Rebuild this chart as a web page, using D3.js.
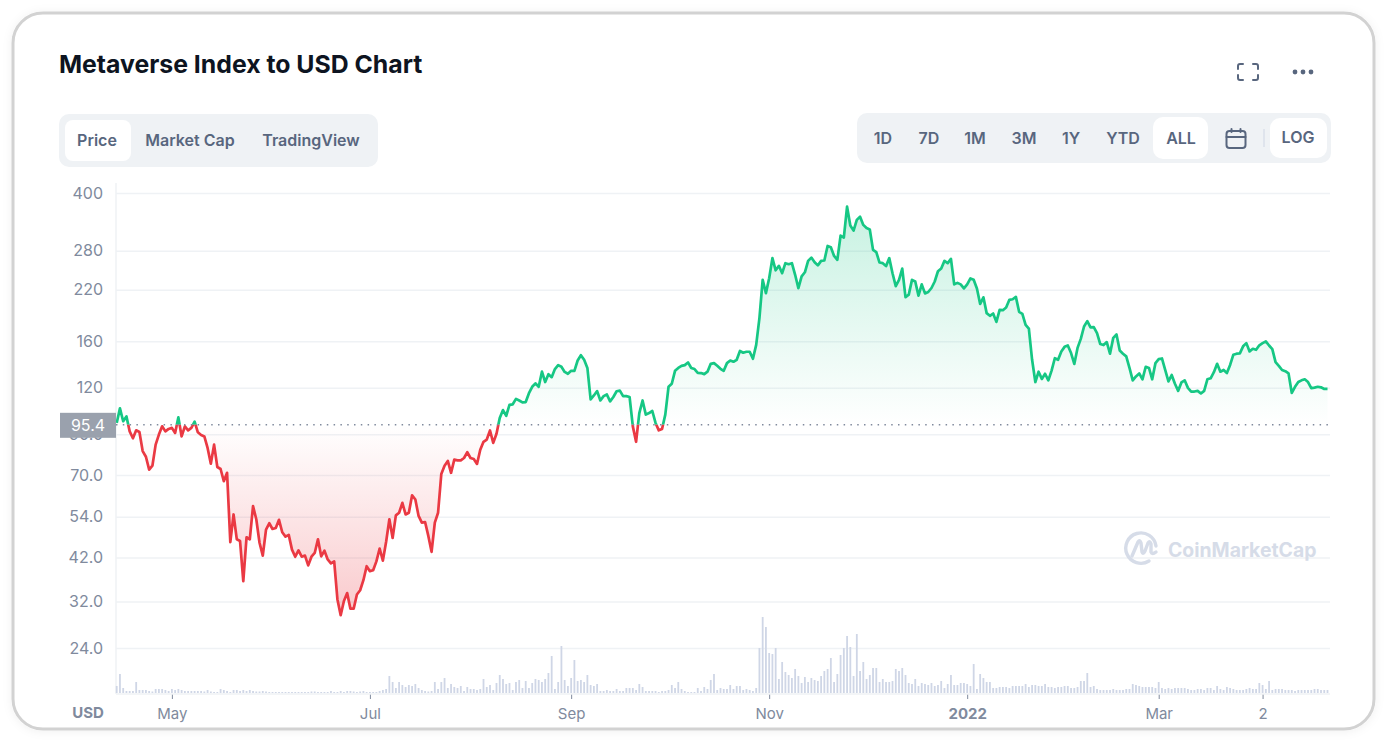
<!DOCTYPE html>
<html>
<head>
<meta charset="utf-8">
<title>Metaverse Index to USD Chart</title>
<script src="https://cdnjs.cloudflare.com/ajax/libs/d3/7.8.5/d3.min.js"></script>
<style>
  html, body { margin: 0; background: #fff; }
  svg { display: block; font-family: Inter, sans-serif; }
</style>
</head>
<body>
<div id="chart"></div>
<script>
// daily close in USD, from 14 Apr 2021
const prices = [
  96.5,105.6,97.5,100.5,91.6,87.8,92.2,91.3,81.1,78.3,72.3,74.1,84.4,89.8,94.5,91.6,93,93.6,90.7,99.9,
  88.8,94.5,92.2,93.6,97.3,91.1,89.6,88.8,82.7,75,84.4,73.5,72.6,67.3,70.9,46.2,54.8,47,46.5,36.3,
  47.6,47,57.7,53.2,46,42.5,49.9,51.9,50.1,50.4,53,49.1,47.8,48.3,44.1,42.2,43.9,42.2,42.5,40,
  42.2,43.2,47,42.3,43.8,41.5,40.5,41,32.4,29.4,32.1,33.7,30.6,30.6,33.4,34.3,36.5,39.8,38.6,38.8,
  41,44.4,41.2,46.3,53.2,47.4,54.5,55.4,58.9,54.8,55.4,61.7,60.1,54.3,52.1,52.3,48,43.5,52.1,55.4,
  70.4,74.1,76.3,70.9,76.9,76.6,76.6,77.7,80.5,77.7,77.2,74.9,81.8,85.9,87.1,92.1,85.3,90.3,99.5,104.5,
  100.9,107.9,108.3,112,110.9,109.6,109.8,116,120.7,123.3,120.7,132.5,124.3,130.5,128.1,134.7,138,136.6,132.3,130.8,
  133.2,133.2,142,146.7,142.6,135.6,111.6,114.4,117.5,110.9,113.9,115.1,110.3,113.3,117.4,117.9,113.9,113.9,113.3,94.5,
  85.9,102.6,110.9,101.6,102.6,103.9,96.5,92.2,93,101.6,120.7,123,133.2,135.6,137.3,138,140.3,135.6,134.7,131.6,
  131.4,130.5,132.5,139.1,139.7,137.4,134.9,133.2,139.7,142,140.9,142.6,150.6,149,149.9,149.9,143.5,156.4,184.6,233.8,
  215.4,236.2,267.3,248,255,243.6,259.2,257.6,259.2,241.2,222,238.9,245,262.9,268.3,260.8,255.7,262.9,263.5,288.3,
  286,271,264.6,307.3,303.6,367.5,327,317,338.7,345.6,328.4,322,319.2,281.4,277.4,260.2,259.2,254.5,267.4,243.6,
  224.9,233.8,250.6,210,213.4,233.8,231.4,212,227.3,215,216.9,222.3,231.4,246.6,250.8,262.9,259.2,266.2,227.3,229.5,
  227.3,221.7,227.3,235.9,233.9,221.7,201.4,209.9,190.3,187.2,189.9,180.3,194.2,193.8,197,206.6,207.4,210.4,191.9,189.5,
  177.1,173,142.6,124.3,132.5,126.7,130.8,125.6,133.4,144,142.6,150.2,154.5,155.8,148.7,139,153.5,162.3,175.2,181.1,
  174.2,174.6,168.2,157.2,156.2,159.1,148.1,163.3,166.7,151,148.1,145.7,135.6,125.6,128.7,131.1,126.4,136.6,135.6,126.4,
  139.7,143.2,143.8,133.9,124.8,129.8,123,117.7,124,125.6,119.9,117.2,117.2,117.7,115.8,117.7,126.4,127.2,132.1,139.1,
  132.5,133.9,131.4,138.2,147.2,148.1,148.4,155,158.1,150.2,152.7,151.7,156,158.1,159.8,155.8,152.4,140.6,137.4,133.9,
  132.9,131.1,116.2,120.7,124.3,125.6,126.4,124.3,119.7,120.1,120.7,120.3,119.1,119.1
];
// daily volume, relative units
const volumes = [
  7,19,5,2,2,2,11,3,3,3,2,1.5,4,4,4,3,2,4,3,4,3,2,2,2,2,2,2,1.5,3,1.5,1,1,4,3,2,1,3,3,2,3,
  2,3,2,1.5,1.5,2,1.5,1,1,1,1,1,1,1,1,1,1,1,1,1,1.5,1.5,1,1,1,1,2,1,1,2,1,2,2,1.5,1,1.5,2,1,
  1,1,1,2,3,4,17,11,5,11,8,6,8,7,9,5,3,2,1.5,2,11,4,11,15,5,9,6,5,7,2,6,4,4,3,4,14,6,8,3,10,
  18,14,9,10,3,11,13,5,12,5,10,14,13,11,14,20,37,4,11,47,13,7,15,33,12,13,11,18,8,7,9,2,2,3,2,2,
  4,2,2,5,5,5,3,9,6,2,2,2,2,1,2,2,3,8,5,11,4,2,1,1,1,5,2,6,4,13,19,3,5,4,4,8,4,7,7,3,
  4,3,2,5,45,76,66,40,39,45,14,31,21,18,15,24,17,10,16,11,15,13,12,17,22,24,35,11,19,38,45,57,46,17,59,22,31,14,18,25,
  25,11,14,11,11,12,24,22,25,18,10,9,14,7,10,9,8,10,7,8,12,5,9,
  18,8,8,10,10,9,7,29,4,19,15,11,11,5,5,6,6,6,5,7,7,7,7,9,6,8,8,7,7,9,6,6,5,6,6,7,7,5,5,6,
  12,12,20,6,7,4,3,3,3,3,4,3,3,3,4,4,9,8,7,6,6,6,6,5,11,5,4,5,4,5,5,5,5,4,3,3,4,4,3,5,
  5,3,7,4,3,6,5,4,3,3,3,4,5,4,4,10,8,4,12,3,4,4,4,3,3,3,2,3,3,3,3,3,4,4,3,3,3
];
const basePrice = 95.4;
const priceTicks = [400, 280, 220, 160, 120, 90, 70, 54, 42, 32, 24];
const priceTickLabels = ['400', '280', '220', '160', '120', '90.0', '70.0', '54.0', '42.0', '32.0', '24.0'];
const dateTicks = [Date.UTC(2021, 4, 1), Date.UTC(2021, 6, 1), Date.UTC(2021, 8, 1), Date.UTC(2021, 10, 1),
  Date.UTC(2022, 0, 1), Date.UTC(2022, 2, 1), Date.UTC(2022, 3, 2)];
const dateTickLabels = ['May', 'Jul', 'Sep', 'Nov', '2022', 'Mar', '2'];
const chartTabs = [['Price', 97], ['Market Cap', 190], ['TradingView', 311]];
const rangeTabs = [['1D', 883], ['7D', 929], ['1M', 975], ['3M', 1024], ['1Y', 1071], ['YTD', 1123], ['ALL', 1181], ['LOG', 1298]];

const startDay = new Date(Date.UTC(2021, 3, 14));
const endDay = new Date(Date.UTC(2022, 3, 22));
const [w, h] = [1400, 756];
const [left, right, bottom] = [116, 1330, 694];
const dayOf = i => d3.utcDay.offset(startDay, i);

const x = d3.scaleUtc().domain([startDay, endDay]).range([116.7, 1327.5]);
const y = d3.scaleLog().domain([400, 24]).range([193, 648]);
const yVol = d3.scaleLinear().domain([0, 76]).range([693, 617]);

const svg = d3.select('#chart').append('svg').attr('width', w).attr('height', h);
const defs = svg.append('defs');
defs.append('filter').attr('id', 'cardShadow').attr('x', '-3%').attr('y', '-3%').attr('width', '106%').attr('height', '106%')
  .append('feDropShadow').attr('dx', 0).attr('dy', 1).attr('stdDeviation', 5).attr('flood-color', '#000').attr('flood-opacity', 0.06);

// gradients go from the base price out to the extreme of each side
const gradUp = defs.append('linearGradient').attr('id', 'gradUp').attr('gradientUnits', 'userSpaceOnUse')
  .attr('x1', 0).attr('x2', 0).attr('y1', y(d3.max(prices))).attr('y2', y(basePrice));
gradUp.append('stop').attr('offset', 0).attr('stop-color', '#16c784').attr('stop-opacity', 0.24);
gradUp.append('stop').attr('offset', 1).attr('stop-color', '#16c784').attr('stop-opacity', 0);
const gradDown = defs.append('linearGradient').attr('id', 'gradDown').attr('gradientUnits', 'userSpaceOnUse')
  .attr('x1', 0).attr('x2', 0).attr('y1', y(basePrice)).attr('y2', y(d3.min(prices)));
gradDown.append('stop').attr('offset', 0).attr('stop-color', '#ea3943').attr('stop-opacity', 0);
gradDown.append('stop').attr('offset', 1).attr('stop-color', '#ea3943').attr('stop-opacity', 0.27);
defs.append('clipPath').attr('id', 'clipUp').append('rect')
  .attr('x', left).attr('y', 0).attr('width', right - left).attr('height', y(basePrice));
defs.append('clipPath').attr('id', 'clipDown').append('rect')
  .attr('x', left).attr('y', y(basePrice)).attr('width', right - left).attr('height', h - y(basePrice));

// card
svg.append('rect').attr('x', 13).attr('y', 13).attr('width', 1361).attr('height', 716).attr('rx', 30)
  .attr('fill', '#fff').attr('stroke', '#d2d2d2').attr('stroke-width', 3).attr('filter', 'url(#cardShadow)');

// header
svg.append('text').text('Metaverse Index to USD Chart').attr('x', 59).attr('y', 73)
  .attr('font-size', 24.8).attr('font-weight', 700).attr('fill', '#0d1421');

function pill(x0, y0, pw, ph, r, fill) {
  svg.append('rect').attr('x', x0).attr('y', y0).attr('width', pw).attr('height', ph).attr('rx', r).attr('fill', fill);
}
pill(59, 114, 319, 53, 10, '#eff2f5');
pill(65, 120, 66, 41, 8, '#fff');
pill(857, 113, 474, 50, 10, '#eff2f5');
pill(1153, 117, 55, 42, 10, '#fff');
pill(1270, 118, 57, 40, 10, '#fff');
svg.append('line').attr('x1', 1264).attr('x2', 1264).attr('y1', 129).attr('y2', 147).attr('stroke', '#cfd6e4');

svg.selectAll('text.chartTab').data(chartTabs).join('text').attr('class', 'chartTab')
  .text(d => d[0]).attr('x', d => d[1]).attr('y', 146)
  .attr('text-anchor', 'middle').attr('font-size', 16).attr('font-weight', 600).attr('fill', '#58667e');
svg.selectAll('text.rangeTab').data(rangeTabs).join('text').attr('class', 'rangeTab')
  .text(d => d[0]).attr('x', d => d[1]).attr('y', d => d[0] === 'LOG' ? 143 : 144)
  .attr('text-anchor', 'middle').attr('font-size', 16).attr('font-weight', 600).attr('fill', '#58667e');

// calendar icon
const cal = svg.append('g').attr('transform', 'translate(1225.5, 128)')
  .attr('fill', 'none').attr('stroke', '#58667e').attr('stroke-width', 2).attr('stroke-linecap', 'round');
cal.append('rect').attr('x', 1).attr('y', 3).attr('width', 19).attr('height', 17).attr('rx', 3);
cal.append('path').attr('d', 'M1 9H20M6 1V4M15 1V4');
// fullscreen icon
svg.append('path').attr('d', 'M1238 69V66Q1238 64 1240 64H1243M1253 64H1256Q1258 64 1258 66V69M1258 75V78Q1258 80 1256 80H1253M1243 80H1240Q1238 80 1238 78V75')
  .attr('fill', 'none').attr('stroke', '#58667e').attr('stroke-width', 2).attr('stroke-linecap', 'round');
// more icon
svg.selectAll('circle.dot').data([1295, 1303, 1311]).join('circle').attr('class', 'dot')
  .attr('cx', d => d).attr('cy', 72).attr('r', 2.4).attr('fill', '#58667e');

// y axis with gridlines
const yAxis = d3.axisLeft(y).tickValues(priceTicks)
  .tickFormat((d, i) => priceTickLabels[i]).tickSize(-(right - left)).tickPadding(13);
const gy = svg.append('g').attr('transform', `translate(${left}, 0)`).call(yAxis);
gy.select('.domain').remove();
gy.selectAll('line').attr('stroke', '#eff2f5').attr('stroke-width', 1.5);
gy.selectAll('text').attr('font-family', 'Inter, sans-serif').attr('font-size', 16).attr('fill', '#808a9d');
svg.append('line').attr('x1', left).attr('x2', left).attr('y1', 183).attr('y2', bottom)
  .attr('stroke', '#eff2f5').attr('stroke-width', 1.5);

// watermark
const mark = svg.append('g').attr('transform', 'translate(1141, 548)')
  .attr('fill', 'none').attr('stroke', '#d6dce8').attr('stroke-width', 3.4).attr('stroke-linecap', 'round').attr('stroke-linejoin', 'round');
mark.append('path').attr('d', 'M15 -2A15.2 15.2 0 1 0 8 13');
mark.append('path').attr('d', 'M-9 8L-3 -6Q-1 -9 0 -5L1 4Q2 7 4 3L7 -5Q9 -8 10 -4V4Q11 7 15 4');
svg.append('text').text('CoinMarketCap').attr('x', 1168).attr('y', 557)
  .attr('font-size', 19.4).attr('font-weight', 700).attr('fill', '#d6dce8');

// volume bars
svg.append('g').selectAll('rect').data(volumes).join('rect')
  .attr('x', (d, i) => x(dayOf(i)) - 0.9).attr('width', 1.8)
  .attr('y', d => yVol(d)).attr('height', d => yVol(0) - yVol(d))
  .attr('fill', '#cfd6e6');

// price area and line, split at the base price
const area = d3.area().x((d, i) => x(dayOf(i))).y0(y(basePrice)).y1(d => y(d));
const line = d3.line().x((d, i) => x(dayOf(i))).y(d => y(d));
[['clipUp', 'gradUp', '#16c784'], ['clipDown', 'gradDown', '#ea3943']].forEach(([clip, grad, stroke]) => {
  const g = svg.append('g').attr('clip-path', `url(#${clip})`);
  g.append('path').datum(prices).attr('d', area).attr('fill', `url(#${grad})`);
  g.append('path').datum(prices).attr('d', line).attr('fill', 'none').attr('stroke', stroke)
    .attr('stroke-width', 2.7).attr('stroke-linejoin', 'round');
});

// base price marker
svg.append('line').attr('x1', left).attr('x2', right).attr('y1', y(basePrice)).attr('y2', y(basePrice))
  .attr('stroke', '#808a9d').attr('stroke-width', 1.4).attr('stroke-dasharray', '1.5 5.3');
svg.append('rect').attr('x', 60).attr('y', y(basePrice) - 12).attr('width', 56).attr('height', 25).attr('fill', '#9aa1ad');
svg.append('text').text(basePrice).attr('x', 88).attr('y', y(basePrice) + 6)
  .attr('text-anchor', 'middle').attr('font-size', 16).attr('fill', '#fff');

// x axis
const xAxis = d3.axisBottom(x).tickValues(dateTicks.map(d => new Date(d)))
  .tickFormat((d, i) => dateTickLabels[i]).tickSize(5).tickPadding(9);
const gx = svg.append('g').attr('transform', `translate(0, ${bottom})`).call(xAxis);
gx.select('.domain').remove();
gx.selectAll('line').attr('stroke', '#808a9d').attr('stroke-width', 1);
gx.selectAll('text').attr('font-family', 'Inter, sans-serif').attr('font-size', 15).attr('fill', '#808a9d')
  .attr('font-weight', (d, i) => dateTickLabels[i] === '2022' ? 700 : 400);
svg.append('line').attr('x1', left).attr('x2', right).attr('y1', bottom).attr('y2', bottom)
  .attr('stroke', '#eff2f5').attr('stroke-width', 1.5);
svg.append('text').text('USD').attr('x', 88).attr('y', 718).attr('text-anchor', 'middle')
  .attr('font-size', 15).attr('font-weight', 700).attr('fill', '#808a9d');
</script>
</body>
</html>
